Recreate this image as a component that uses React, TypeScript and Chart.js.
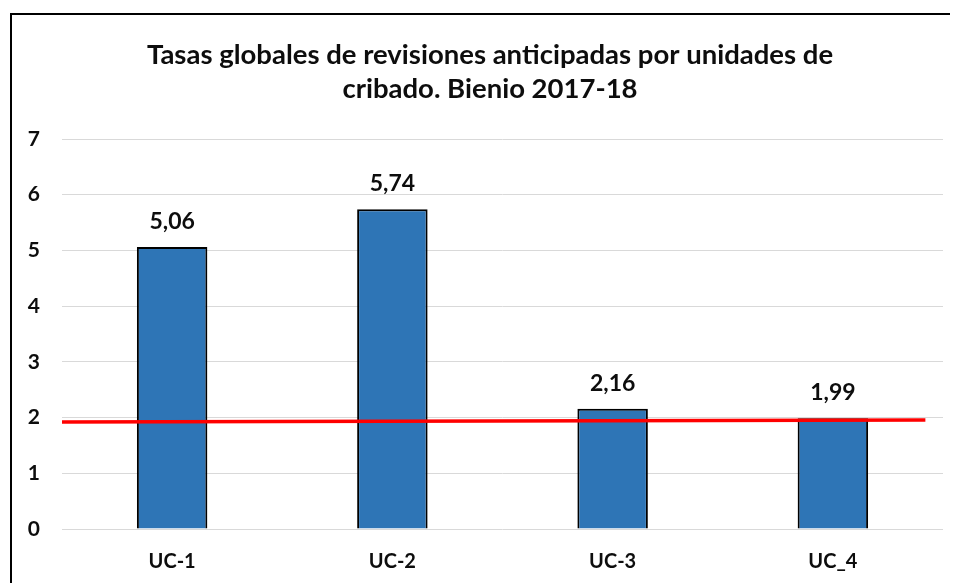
import React, { useEffect, useRef } from "react";
import { Chart, registerables } from "chart.js";

Chart.register(...registerables);

const categories = ["UC-1", "UC-2", "UC-3", "UC_4"];
const rates = [5.06, 5.74, 2.16, 1.99];
const refLineX = [-0.5, 3.42];
const refLineY = [1.92, 1.955];
const yTicks = [0, 1, 2, 3, 4, 5, 6, 7];
const titleLines = [
  "Tasas globales de revisiones anticipadas por unidades de",
  "cribado. Bienio 2017-18",
];

const FONT = "Lato, 'Open Sans', sans-serif";

const valueLabels = {
  id: "valueLabels",
  afterDatasetsDraw(chart: any) {
    const ctx = chart.ctx;
    chart.data.datasets.forEach((ds: any, i: number) => {
      if (ds.type !== "bar") return;
      const meta = chart.getDatasetMeta(i);
      meta.data.forEach((el: any, j: number) => {
        const v = ds.data[j];
        ctx.save();
        ctx.font = `bold 23px ${FONT}`;
        ctx.fillStyle = "#0d0d0d";
        ctx.textAlign = "center";
        ctx.textBaseline = "alphabetic";
        ctx.fillText(v.toFixed(2).replace(".", ","), el.x, el.y - 18);
        ctx.restore();
      });
    });
  },
};

export default function App() {
  const ref = useRef<HTMLCanvasElement>(null);
  useEffect(() => {
    if (!ref.current) return;
    const chart = new Chart(ref.current, {
      type: "bar",
      data: {
        labels: categories,
        datasets: [
          {
            type: "line" as const,
            data: refLineX.map((x, i) => ({ x, y: refLineY[i] })),
            xAxisID: "x2",
            yAxisID: "y",
            borderColor: "#ff0000",
            borderWidth: 3.5,
            pointRadius: 0,
            fill: false,
            order: 0,
          },
          {
            type: "bar" as const,
            data: rates,
            xAxisID: "x",
            yAxisID: "y",
            backgroundColor: "#2e75b6",
            borderColor: "#000000",
            borderWidth: 2,
            categoryPercentage: 1,
            barPercentage: 0.32,
            grouped: false,
            order: 1,
          },
        ],
      } as any,
      options: {
        responsive: false,
        animation: false,
        layout: { padding: 0 },
        plugins: {
          legend: { display: false },
          tooltip: { enabled: false },
          title: {
            display: true,
            text: titleLines,
            color: "#0d0d0d",
            font: { family: FONT, size: 27.5, weight: "bold", lineHeight: 34 / 27.5 },
            padding: { top: 23, bottom: 33 },
          },
        },
        scales: {
          x: {
            type: "category",
            offset: true,
            grid: { display: false, drawTicks: false },
            border: { display: false },
            ticks: {
              color: "#0d0d0d",
              font: { family: FONT, size: 20, weight: "bold" },
              padding: 21,
            },
            afterFit(scale: any) {
              scale.height = 54;
            },
          },
          x2: {
            type: "linear",
            display: false,
            offset: false,
            grid: { offset: false },
            min: -0.5,
            max: 3.5,
          },
          y: {
            position: "left",
            min: 0,
            max: 7,
            afterBuildTicks(scale: any) {
              scale.ticks = yTicks.map((v) => ({ value: v }));
            },
            grid: { color: "#d9d9d9", lineWidth: 1, drawTicks: false },
            border: { display: false },
            ticks: {
              color: "#0d0d0d",
              font: { family: FONT, size: 21, weight: "bold" },
              padding: 22,
            },
            afterFit(scale: any) {
              scale.width = 50;
            },
          },
          yRight: {
            type: "linear",
            position: "right",
            min: 0,
            max: 7,
            grid: { display: false, drawTicks: false },
            border: { display: false },
            ticks: { display: false },
            afterFit(scale: any) {
              scale.width = 25;
            },
          },
        },
      } as any,
      plugins: [valueLabels],
    });
    return () => chart.destroy();
  }, []);

  return (
    <div style={{ position: "relative", width: 950, height: 575, overflow: "hidden" }}>
      <div
        style={{
          position: "absolute",
          left: 2,
          top: 5,
          width: 1000,
          height: 700,
          border: "2px solid #000",
          background: "#fff",
        }}
      >
        <canvas ref={ref} width={956} height={568} style={{ display: "block" }} />
      </div>
    </div>
  );
}
